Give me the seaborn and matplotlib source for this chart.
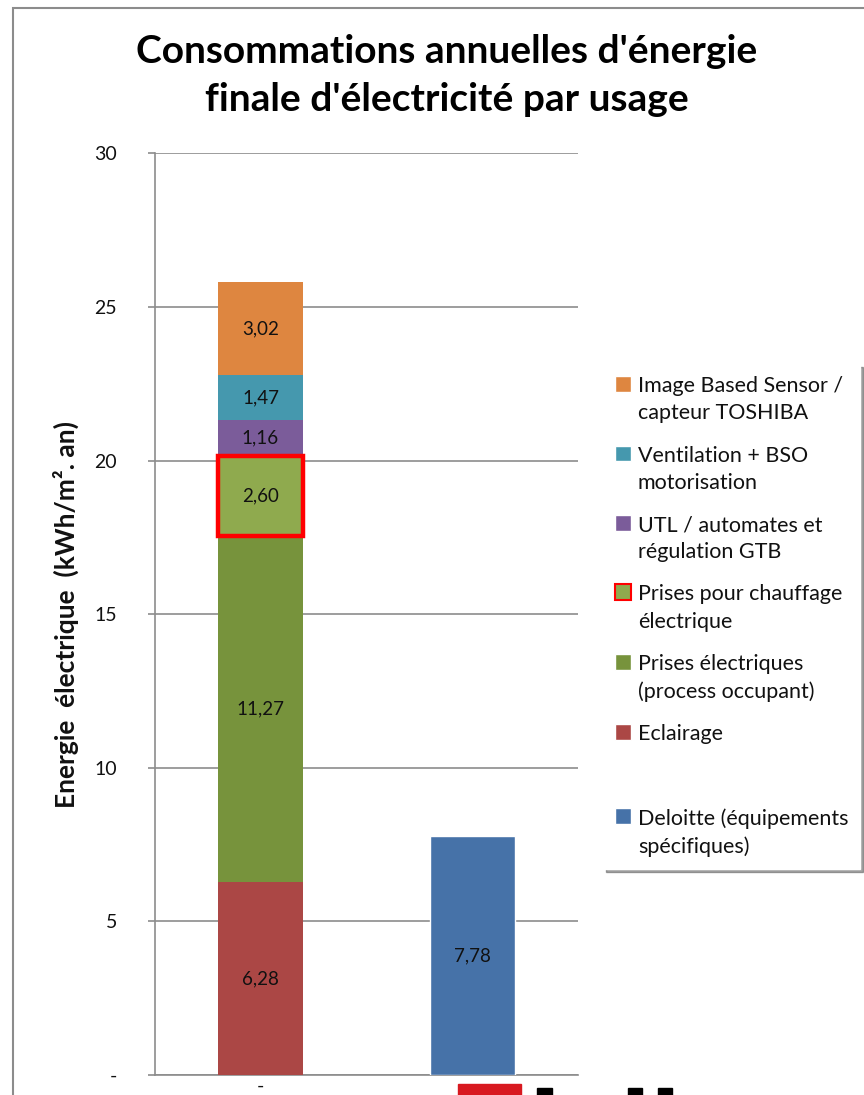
import numpy as np
import pandas as pd
import matplotlib
matplotlib.use("Agg")
import matplotlib.pyplot as plt
import matplotlib.patches as mpatches
import seaborn as sns

# data
usages = ["Eclairage", "Prises électriques\n(process occupant)", "Prises pour chauffage\nélectrique",
          "UTL / automates et\nrégulation GTB", "Ventilation + BSO\nmotorisation",
          "Image Based Sensor /\ncapteur TOSHIBA"]
values = [6.28, 11.27, 2.60, 1.16, 1.47, 3.02]
colors = ["#AB4745", "#77933C", "#8FAA4E", "#7B5C9A", "#4598AE", "#DE8640"]
deloitte_label = "Deloitte (équipements\nspécifiques)"
deloitte_value = [7.78]
deloitte_color = "#4672A8"
categories = ["-", ""]

sns.set_theme(style="white")
plt.rcParams["font.family"] = ["Lato", "DejaVu Sans"]

fig = plt.figure(figsize=(8.64, 10.95), dpi=100)
ax = fig.add_axes([0.179, 0.0183, 0.49, 0.8417])

# stacked bar
bottoms = np.concatenate([[0], np.cumsum(values)[:-1]])
for i in range(len(values)):
    ec = "#FF0000" if i == 2 else "none"
    lw = 3.2 if i == 2 else 0
    ax.bar(0, values[i], bottom=bottoms[i], width=0.4, color=colors[i],
           edgecolor=ec, linewidth=lw, zorder=3 if i != 2 else 4)
    ax.text(0, bottoms[i] + values[i] / 2, f"{values[i]:.2f}".replace(".", ","),
            ha="center", va="center", fontsize=13.5, color="#111111", zorder=5)

# Deloitte bar
ax.bar(1, deloitte_value[0], width=0.4, color=deloitte_color, zorder=3)
ax.text(1, deloitte_value[0] / 2, f"{deloitte_value[0]:.2f}".replace(".", ","),
        ha="center", va="center", fontsize=13.5, color="#111111", zorder=5)

ax.set_xlim(-0.5, 1.5)
ax.set_ylim(0, 30)
ax.set_yticks([0, 5, 10, 15, 20, 25, 30])
ax.set_yticklabels(["-", "5", "10", "15", "20", "25", "30"], fontsize=14, color="#111111")
ax.set_xticks([0, 1])
ax.set_xticklabels(categories, fontsize=14, color="#111111")
ax.yaxis.grid(True, color="#8C8C8C", linewidth=1.2, zorder=0)
ax.set_axisbelow(True)
for s in ["top", "right"]:
    ax.spines[s].set_visible(False)
for s in ["left", "bottom"]:
    ax.spines[s].set_color("#8C8C8C")
    ax.spines[s].set_linewidth(1.2)
ax.tick_params(axis="y", length=5, color="#8C8C8C", width=1.2, pad=22, left=True)
ax.tick_params(axis="x", length=0, pad=2)
ax.set_ylabel("Energie  électrique  (kWh/m². an)", fontsize=19, fontweight="bold",
              labelpad=11, color="#111111")

fig.suptitle("Consommations annuelles d'énergie\nfinale d'électricité par usage",
             fontsize=28, fontweight="bold", y=0.969, x=0.517, linespacing=1.45, color="black")

# legend
handles = []
for i in range(len(values) - 1, -1, -1):
    if i == 2:
        handles.append(mpatches.Patch(facecolor=colors[i], edgecolor="#FF0000", linewidth=1.5, label=usages[i]))
    else:
        handles.append(mpatches.Patch(facecolor=colors[i], label=usages[i]))
handles.append(mpatches.Patch(facecolor="none", edgecolor="none", label=" "))
handles.append(mpatches.Patch(facecolor=deloitte_color, label=deloitte_label))
leg = fig.legend(handles=handles, loc="upper left", bbox_to_anchor=(0.686, 0.677),
                 fontsize=15.5, frameon=True, shadow=True, fancybox=False,
                 handlelength=0.75, handleheight=0.75, handletextpad=0.3,
                 labelspacing=1.03, borderpad=0.55)
leg.get_frame().set_edgecolor("white")
for t in leg.get_texts():
    t.set_linespacing(1.45)
    t.set_color("#111111")
for col in leg._legend_handle_box.get_children():
    for row in col.get_children():
        row.align = "top"

# outer chart border
fig.add_artist(mpatches.Rectangle((13 / 864, -0.1), 1.2, 1.1 - 8 / 1095,
                                  transform=fig.transFigure, fill=False,
                                  edgecolor="#8C8C8C", linewidth=1.5))
# partial logo at bottom
fig.add_artist(mpatches.Rectangle((458 / 864, 0), 63 / 864, 11 / 1095,
                                  transform=fig.transFigure, color="#D81920"))
for x0, w in [(537, 15), (628, 14), (658, 14)]:
    fig.add_artist(mpatches.Rectangle((x0 / 864, 0), w / 864, 7 / 1095,
                                      transform=fig.transFigure, color="black"))

fig.savefig("out.png", dpi=100)
